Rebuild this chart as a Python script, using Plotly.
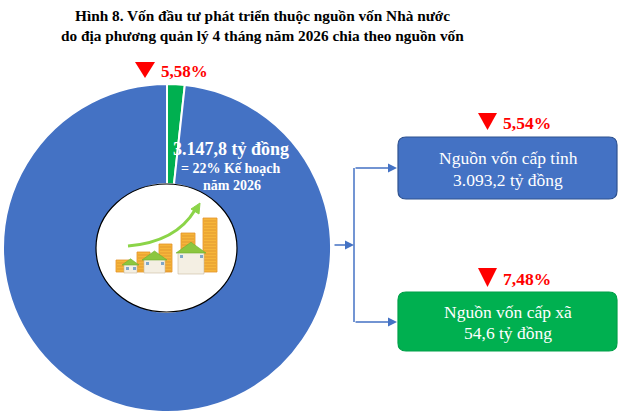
import plotly.graph_objects as go

# ---------------- data ----------------
title_lines = [
    "Hình 8. Vốn đầu tư phát triển thuộc nguồn vốn Nhà nước",
    "do địa phương quản lý 4 tháng năm 2026 chia theo nguồn vốn",
]
categories = ["Nguồn vốn cấp tỉnh", "Nguồn vốn cấp xã"]
values = [3093.2, 54.6]            # tỷ đồng
changes = ["5,54%", "7,48%"]        # giảm so với cùng kỳ
total_value = 3147.8
total_change = "5,58%"
plan_share = "22%"
plan_year = "2026"

BLUE = "#4472C4"
GREEN = "#00B050"
RED = "#FF0000"
FONT = "Liberation Serif, Times New Roman, DejaVu Serif, serif"
W, H = 623, 416


def vn(v):
    return format(v, ",.1f").replace(",", "X").replace(".", ",").replace("X", ".")


fig = go.Figure()

# invisible cartesian layer for pixel-based decorations
fig.add_trace(go.Scatter(x=[], y=[], showlegend=False, hoverinfo="skip"))

# donut
cx, cy, R = 167, 248, 164
fig.add_trace(go.Pie(
    values=values[::-1],
    labels=categories[::-1],
    marker=dict(colors=[GREEN, BLUE], line=dict(color="white", width=2)),
    hole=0.39,
    sort=False,
    direction="counterclockwise",
    rotation=0,
    textinfo="none",
    hoverinfo="label+value",
    showlegend=False,
    domain=dict(x=[(cx - R) / W, (cx + R) / W], y=[1 - (cy + R) / H, 1 - (cy - R) / H]),
))

shapes = []
# inner white circle with black rim
shapes.append(dict(type="circle", xref="x", yref="y", x0=96, x1=237, y0=184, y1=312,
                   fillcolor="white", line=dict(color="black", width=1.2), layer="above"))

# illustration: coin stacks
stacks = [(116, 129, 260), (137, 150, 252), (159, 172, 244), (181, 195, 233), (203, 217, 218)]
for x0, x1, top in stacks:
    shapes.append(dict(type="rect", xref="x", yref="y", x0=x0, x1=x1, y0=top, y1=272,
                       fillcolor="#F6B53A", line=dict(color="#E3922A", width=0.8), layer="above"))
    segs = " ".join(f"M {x0+1},{yy} L {x1-1},{yy}" for yy in range(int(top) + 3, 272, 3))
    shapes.append(dict(type="path", xref="x", yref="y", path=segs,
                       line=dict(color="#D9862B", width=0.6), layer="above"))

# houses
houses = [(123, 138, 264, 273), (143, 166, 259, 273), (177, 205, 252, 274)]
for x0, x1, wall_top, base in houses:
    shapes.append(dict(type="rect", xref="x", yref="y", x0=x0 + 1, x1=x1 - 1, y0=wall_top, y1=base,
                       fillcolor="#F4EFE3", line=dict(color="#C9B9A0", width=0.6), layer="above"))
    mid = (x0 + x1) / 2
    shapes.append(dict(type="path", xref="x", yref="y",
                       path=f"M {x0-1},{wall_top+1} L {mid},{wall_top-(x1-x0)*0.35} L {x1+1},{wall_top+1} Z",
                       fillcolor="#8CC63F", line=dict(color="#6FAF2E", width=0.6), layer="above"))
    for k in range(2):
        wx = x0 + 3 + k * (x1 - x0 - 8) / 1
        shapes.append(dict(type="rect", xref="x", yref="y", x0=wx, x1=wx + 3, y0=wall_top + 3, y1=wall_top + 6,
                           fillcolor="#7FA7C9", line=dict(width=0), layer="above"))

# green growth arrow
shapes.append(dict(type="path", xref="x", yref="y", path="M 128,246 Q 176,242 195,210",
                   line=dict(color="#8BD448", width=3), layer="above"))
shapes.append(dict(type="path", xref="x", yref="y", path="M 191,209 L 200,203 L 199,214 Z",
                   fillcolor="#8BD448", line=dict(color="#8BD448", width=1), layer="above"))

# connector lines
shapes.append(dict(type="line", xref="x", yref="y", x0=354, x1=354, y0=168, y1=322,
                   line=dict(color=BLUE, width=1.5), layer="above"))


def rrect(x0, y0, x1, y1, r):
    return (f"M {x0+r},{y0} L {x1-r},{y0} Q {x1},{y0} {x1},{y0+r} L {x1},{y1-r} "
            f"Q {x1},{y1} {x1-r},{y1} L {x0+r},{y1} Q {x0},{y1} {x0},{y1-r} "
            f"L {x0},{y0+r} Q {x0},{y0} {x0+r},{y0} Z")


boxes = [(398, 137, 617, 199, BLUE, "#2F528F"), (398, 292, 617, 351, GREEN, "#00A048")]
for x0, y0, x1, y1, fc, lc in boxes:
    shapes.append(dict(type="path", xref="x", yref="y", path=rrect(x0, y0, x1, y1, 8),
                       fillcolor=fc, line=dict(color=lc, width=1.2), layer="above"))


def tri(xl, xr, yt, yb):
    return f"M {xl},{yt} L {xr},{yt} L {(xl+xr)/2},{yb} Z"


for xl, xr, yt, yb in [(135, 155, 62, 78), (478, 497, 113, 130), (478, 497, 268, 287)]:
    shapes.append(dict(type="path", xref="x", yref="y", path=tri(xl, xr, yt, yb),
                       fillcolor=RED, line=dict(width=0), layer="above"))

annotations = []
# title
for i, (txt, yy) in enumerate(zip(title_lines, [15, 35])):
    annotations.append(dict(x=262, y=yy, xref="x", yref="y", text=f"<b>{txt}</b>", showarrow=False,
                            font=dict(family=FONT, size=15.3, color="black"), xanchor="center", yanchor="middle"))

# percentage labels
annotations.append(dict(x=159, y=71, xref="x", yref="y", text=f"<b>{total_change}</b>", showarrow=False,
                        font=dict(family=FONT, size=17, color=RED), xanchor="left", yanchor="middle"))
for ch, yy in zip(changes, [123, 279]):
    annotations.append(dict(x=501, y=yy, xref="x", yref="y", text=f"<b>{ch}</b>", showarrow=False,
                            font=dict(family=FONT, size=17.5, color=RED), xanchor="left", yanchor="middle"))

# total label on ring
annotations.append(dict(x=231, y=149, xref="x", yref="y", text=f"<b>{vn(total_value)} tỷ đồng</b>",
                        showarrow=False, font=dict(family=FONT, size=18, color="white"),
                        xanchor="center", yanchor="middle"))
annotations.append(dict(x=231, y=168, xref="x", yref="y", text=f"<b>= {plan_share} Kế hoạch</b>",
                        showarrow=False, font=dict(family=FONT, size=14, color="white"),
                        xanchor="center", yanchor="middle"))
annotations.append(dict(x=232, y=185, xref="x", yref="y", text=f"<b>năm {plan_year}</b>",
                        showarrow=False, font=dict(family=FONT, size=14, color="white"),
                        xanchor="center", yanchor="middle"))

# box texts
for cat, v, (yy1, yy2) in zip(categories, values, [(158, 180), (312, 333)]):
    annotations.append(dict(x=508, y=yy1, xref="x", yref="y", text=cat, showarrow=False,
                            font=dict(family=FONT, size=17.5, color="white"), xanchor="center", yanchor="middle"))
    annotations.append(dict(x=508, y=yy2, xref="x", yref="y", text=f"{vn(v)} tỷ đồng", showarrow=False,
                            font=dict(family=FONT, size=17.5, color="white"), xanchor="center", yanchor="middle"))

# arrows
for (tx, ty, hx, hy) in [(333, 245, 354, 245), (354, 168, 397, 168), (354, 322, 397, 322)]:
    annotations.append(dict(x=hx, y=hy, ax=tx, ay=ty, xref="x", yref="y", axref="x", ayref="y",
                            text="", showarrow=True, arrowhead=2, arrowsize=1.2, arrowwidth=1.5,
                            arrowcolor=BLUE, standoff=0, startstandoff=0))

fig.update_layout(
    width=W, height=H, autosize=False,
    margin=dict(l=0, r=0, t=0, b=0),
    paper_bgcolor="white", plot_bgcolor="rgba(0,0,0,0)",
    xaxis=dict(range=[0, W], visible=False, fixedrange=True),
    yaxis=dict(range=[H, 0], visible=False, fixedrange=True),
    shapes=shapes, annotations=annotations,
    showlegend=False,
)

fig.write_html("out.html", config={"displayModeBar": False},
               post_script="document.body.style.margin='0';")
